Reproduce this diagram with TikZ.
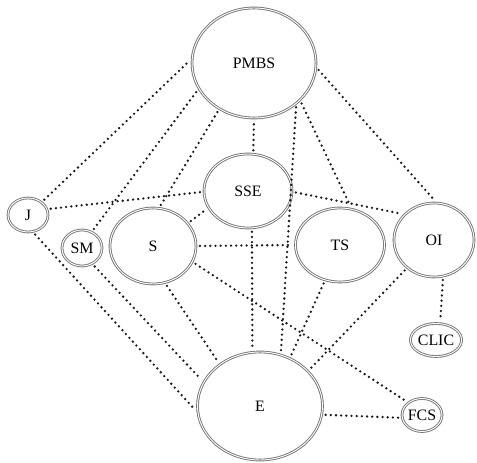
\documentclass[tikz,border=0pt]{standalone}
\usepackage{fontspec}
\setmainfont{Liberation Serif}
\usetikzlibrary{shapes.geometric}

\begin{document}
\begin{tikzpicture}[x=0.85pt,y=-0.85pt,font=\fontsize{13.5}{15}\selectfont,
  org/.style={ellipse,draw=black!55,line width=0.75pt,double=white,double distance=0.8pt,inner sep=0pt},
  link/.style={black!90,line width=2.2pt,line cap=round,dash pattern=on 0pt off 4.4pt,shorten <=3pt,shorten >=3pt}]
\useasboundingbox (0,0) rectangle (477,463);
\foreach \n/\x/\y/\w/\h in {PMBS/254/63/124/110, SSE/248/191/88/74, J/28/215/40/34, SM/82/248/40/36,
    S/153/246/86/76, TS/340/245/89/74, OI/434/240/80/74, CLIC/436/340/39/33, E/260/406/125/108, FCS/422/415/38/33}
  \node[org,minimum width=\w*0.85pt,minimum height=\h*0.85pt] (\n) at (\x,\y) {\n};
\foreach \a/\b in {J.43/PMBS.176, J.17/SSE.181, J.-74/E.186, SM.59/PMBS.205, SM.-57/E.157,
    S.81/PMBS.233, S.33/SSE.203, S.0/TS.180, S.-72/E.134, S.-22/FCS.138,
    SSE.82/PMBS.270, SSE.-1/OI.139, SSE.-84/E.98, PMBS.-39/TS.72, PMBS.-44/E.68, PMBS.-4/OI.86,
    TS.-113/E.58, OI.-134/E.36, OI.-76/CLIC.76, E.-8/FCS.188}
  \draw[link] (\a) -- (\b);
\end{tikzpicture}
\end{document}
